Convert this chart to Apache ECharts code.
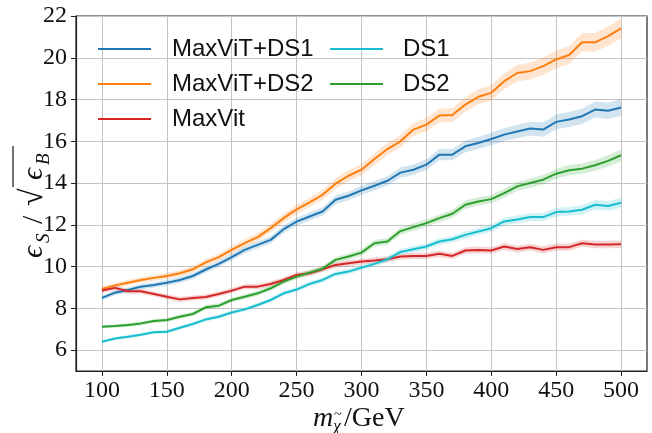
<!DOCTYPE html>
<html>
<head>
<meta charset="utf-8">
<script src="https://cdn.jsdelivr.net/npm/echarts@6/dist/echarts.min.js"></script>
<style>
  html, body { margin: 0; padding: 0; background: #fff; }
  #chart { width: 652px; height: 433px; }
</style>
</head>
<body>
<div id="chart"></div>
<script>
// neutralino mass points (GeV)
const masses = [100, 110, 120, 130, 140, 150, 160, 170, 180, 190,
  200, 210, 220, 230, 240, 250, 260, 270, 280, 290,
  300, 310, 320, 330, 340, 350, 360, 370, 380, 390,
  400, 410, 420, 430, 440, 450, 460, 470, 480, 490, 500]

// significance improvement eps_S / sqrt(eps_B)
const maxvitDs1 = [8.50, 8.75, 8.88, 9.04, 9.12, 9.23, 9.36, 9.55, 9.86, 10.13,
  10.45, 10.80, 11.04, 11.28, 11.79, 12.15, 12.40, 12.64, 13.20, 13.39,
  13.65, 13.87, 14.11, 14.50, 14.64, 14.88, 15.36, 15.36, 15.76, 15.92,
  16.11, 16.32, 16.47, 16.61, 16.56, 16.93, 17.04, 17.20, 17.52, 17.46, 17.62]
const maxvitDs2 = [8.93, 9.10, 9.23, 9.36, 9.46, 9.55, 9.68, 9.87, 10.20, 10.45,
  10.80, 11.12, 11.41, 11.84, 12.32, 12.74, 13.07, 13.44, 13.97, 14.35,
  14.64, 15.15, 15.63, 16.00, 16.56, 16.80, 17.23, 17.26, 17.76, 18.13,
  18.32, 18.88, 19.27, 19.36, 19.60, 19.92, 20.13, 20.74, 20.74, 21.04, 21.41]
const maxvit = [8.86, 8.98, 8.82, 8.82, 8.69, 8.56, 8.43, 8.50, 8.54, 8.69,
  8.85, 9.04, 9.04, 9.17, 9.36, 9.60, 9.68, 9.87, 10.08, 10.16,
  10.24, 10.29, 10.35, 10.48, 10.51, 10.51, 10.61, 10.51, 10.77, 10.80,
  10.77, 10.96, 10.84, 10.93, 10.80, 10.93, 10.93, 11.12, 11.06, 11.06, 11.07]
const ds1 = [6.40, 6.56, 6.64, 6.74, 6.86, 6.88, 7.07, 7.25, 7.47, 7.60,
  7.80, 7.95, 8.16, 8.40, 8.72, 8.90, 9.17, 9.36, 9.65, 9.76,
  9.95, 10.13, 10.35, 10.70, 10.83, 10.96, 11.20, 11.31, 11.52, 11.68,
  11.84, 12.16, 12.26, 12.37, 12.37, 12.61, 12.64, 12.72, 12.96, 12.90, 13.06]
const ds2 = [7.12, 7.15, 7.20, 7.28, 7.39, 7.44, 7.60, 7.73, 8.05, 8.13,
  8.40, 8.56, 8.72, 8.96, 9.28, 9.52, 9.71, 9.90, 10.32, 10.48,
  10.67, 11.12, 11.20, 11.70, 11.89, 12.08, 12.32, 12.53, 12.96, 13.12,
  13.23, 13.52, 13.84, 14.00, 14.16, 14.45, 14.61, 14.69, 14.85, 15.06, 15.33]

// half widths of the shaded uncertainty bands
const maxvitDs1Err = [0.12, 0.12, 0.12, 0.13, 0.13, 0.13, 0.14, 0.14, 0.15, 0.15,
  0.16, 0.16, 0.17, 0.17, 0.18, 0.19, 0.19, 0.20, 0.21, 0.21,
  0.22, 0.23, 0.23, 0.24, 0.25, 0.26, 0.27, 0.27, 0.28, 0.29,
  0.30, 0.31, 0.32, 0.33, 0.34, 0.35, 0.36, 0.37, 0.38, 0.39, 0.40]
const maxvitDs2Err = [0.12, 0.12, 0.13, 0.13, 0.14, 0.14, 0.15, 0.15, 0.16, 0.17,
  0.18, 0.19, 0.20, 0.20, 0.21, 0.22, 0.23, 0.24, 0.25, 0.26,
  0.27, 0.28, 0.29, 0.30, 0.31, 0.32, 0.33, 0.34, 0.35, 0.36,
  0.37, 0.38, 0.39, 0.40, 0.41, 0.42, 0.43, 0.44, 0.45, 0.46, 0.47]
const maxvitErr = [0.12, 0.12, 0.12, 0.12, 0.12, 0.12, 0.12, 0.12, 0.12, 0.12,
  0.12, 0.12, 0.13, 0.13, 0.13, 0.13, 0.13, 0.13, 0.13, 0.14,
  0.14, 0.14, 0.14, 0.14, 0.15, 0.15, 0.15, 0.15, 0.15, 0.16,
  0.16, 0.16, 0.16, 0.16, 0.17, 0.17, 0.17, 0.17, 0.18, 0.18, 0.18]
const ds1Err = [0.07, 0.07, 0.08, 0.08, 0.08, 0.09, 0.09, 0.09, 0.10, 0.10,
  0.10, 0.10, 0.11, 0.11, 0.11, 0.12, 0.12, 0.12, 0.12, 0.13,
  0.13, 0.13, 0.14, 0.14, 0.15, 0.15, 0.16, 0.16, 0.17, 0.17,
  0.18, 0.18, 0.19, 0.19, 0.20, 0.21, 0.21, 0.22, 0.23, 0.23, 0.24]
const ds2Err = [0.08, 0.08, 0.09, 0.09, 0.09, 0.10, 0.10, 0.10, 0.11, 0.11,
  0.11, 0.12, 0.12, 0.12, 0.13, 0.13, 0.14, 0.14, 0.14, 0.15,
  0.15, 0.16, 0.16, 0.17, 0.17, 0.18, 0.18, 0.19, 0.19, 0.20,
  0.20, 0.21, 0.21, 0.22, 0.23, 0.24, 0.25, 0.25, 0.26, 0.27, 0.28]

const xTicks = [100, 150, 200, 250, 300, 350, 400, 450, 500]
const yTicks = [6, 8, 10, 12, 14, 16, 18, 20, 22]

const curves = [
  { name: 'MaxViT+DS1', values: maxvitDs1, err: maxvitDs1Err, color: '#1f77b4' },
  { name: 'MaxViT+DS2', values: maxvitDs2, err: maxvitDs2Err, color: '#ff7f0e' },
  { name: 'MaxVit', values: maxvit, err: maxvitErr, color: '#d62728' },
  { name: 'DS1', values: ds1, err: ds1Err, color: '#17becf' },
  { name: 'DS2', values: ds2, err: ds2Err, color: '#2ca02c' },
]

const serif = 'Liberation Serif'
const sans = 'Liberation Sans'

const series = []
// shaded bands: one polygon per curve, upper edge then lower edge back
curves.forEach((c) => {
  series.push({
    type: 'custom',
    silent: true,
    z: 1,
    data: masses.map((m, k) => [m, c.values[k] - c.err[k], c.values[k] + c.err[k]]),
    encode: { x: 0, y: [1, 2] },
    renderItem: (params, api) => {
      if (params.dataIndex !== 0) return
      const upper = masses.map((m, k) => api.coord([m, c.values[k] + c.err[k]]))
      const lower = masses.map((m, k) => api.coord([m, c.values[k] - c.err[k]])).reverse()
      return {
        type: 'polygon',
        shape: { points: upper.concat(lower) },
        style: { fill: c.color, opacity: 0.2 },
      }
    },
  })
})
curves.forEach((c) => {
  series.push({
    name: c.name,
    type: 'line',
    data: masses.map((m, k) => [m, c.values[k]]),
    symbol: 'none',
    color: c.color,
    lineStyle: { width: 2, color: c.color },
    z: 3,
  })
})

const legendBase = {
  orient: 'vertical',
  top: 31.5,
  padding: 0,
  itemGap: 0,
  icon: 'rect',
  itemWidth: 53,
  itemHeight: 2,
}

const chart = echarts.init(document.getElementById('chart'))
chart.setOption({
  animation: false,
  backgroundColor: '#fff',
  grid: {
    left: 76, right: 5, top: 16, bottom: 62,
    show: true, borderColor: '#222', borderWidth: 1.2,
  },
  legend: [
    Object.assign({}, legendBase, {
      left: 98,
      data: ['MaxViT+DS1', 'MaxViT+DS2', 'MaxVit'],
      textStyle: { fontFamily: sans, fontSize: 24, color: '#111', lineHeight: 35, padding: [0, 0, 0, 16] },
    }),
    Object.assign({}, legendBase, {
      left: 330,
      data: ['DS1', 'DS2'],
      textStyle: { fontFamily: sans, fontSize: 24, color: '#111', lineHeight: 35, padding: [0, 0, 0, 15] },
    }),
  ],
  xAxis: {
    type: 'value',
    min: 80,
    max: 520,
    axisLine: { lineStyle: { color: '#222', width: 1.2 } },
    axisTick: { show: true, length: 5, customValues: xTicks, lineStyle: { color: '#222' } },
    axisLabel: { customValues: xTicks, fontFamily: serif, fontSize: 24, color: '#111', margin: 8 },
    splitLine: { show: true, lineStyle: { color: '#c4c4c4', width: 1 } },
  },
  yAxis: {
    type: 'value',
    min: 5,
    max: 22,
    axisLine: { show: true, lineStyle: { color: '#222', width: 1.2 } },
    axisTick: { show: true, length: 5, customValues: yTicks, lineStyle: { color: '#222' } },
    axisLabel: { customValues: yTicks, fontFamily: serif, fontSize: 24, color: '#111', margin: 9 },
    splitLine: { show: true, lineStyle: { color: '#c4c4c4', width: 1 } },
  },
  series: series,
  graphic: [
    // x axis title: m_chi~ / GeV
    { type: 'text', x: 313, y: 419, style: { text: 'm', font: 'italic 28px ' + serif, fill: '#111', verticalAlign: 'middle' } },
    { type: 'text', x: 333, y: 427, style: { text: 'χ', font: 'italic 18px ' + serif, fill: '#111', verticalAlign: 'middle' } },
    { type: 'text', x: 334, y: 415, style: { text: '~', font: '14px ' + serif, fill: '#111', verticalAlign: 'middle' } },
    { type: 'text', x: 344, y: 419, style: { text: '/GeV', font: '28px ' + serif, fill: '#111', verticalAlign: 'middle' } },
    // y axis title: eps_S / sqrt(eps_B), rotated
    {
      type: 'group',
      x: 43,
      y: 258,
      rotation: Math.PI / 2,
      children: [
        { type: 'text', x: 0, y: -9, style: { text: 'ϵ', font: 'italic 30px ' + serif, fill: '#111', verticalAlign: 'middle' } },
        { type: 'text', x: 15, y: 1, style: { text: 'S', font: 'italic 19px ' + serif, fill: '#111', verticalAlign: 'middle' } },
        { type: 'text', x: 34, y: -9, style: { text: '/', font: '30px ' + serif, fill: '#111', verticalAlign: 'middle' } },
        { type: 'text', x: 52, y: -9, style: { text: '√', font: '32px ' + serif, fill: '#111', verticalAlign: 'middle' } },
        { type: 'line', shape: { x1: 71, y1: -30, x2: 112, y2: -30 }, style: { stroke: '#111', lineWidth: 1.2 } },
        { type: 'text', x: 78, y: -9, style: { text: 'ϵ', font: 'italic 30px ' + serif, fill: '#111', verticalAlign: 'middle' } },
        { type: 'text', x: 93, y: 1, style: { text: 'B', font: 'italic 19px ' + serif, fill: '#111', verticalAlign: 'middle' } },
      ],
    },
  ],
})
</script>
</body>
</html>
